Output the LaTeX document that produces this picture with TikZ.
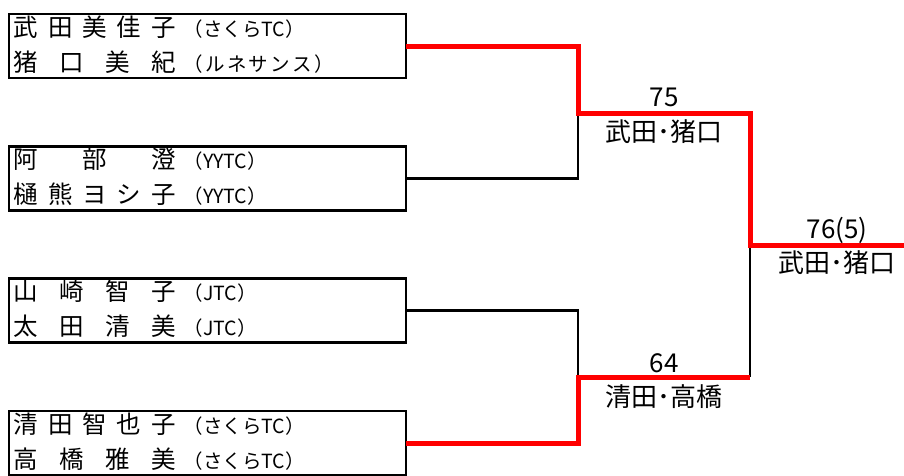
\documentclass[tikz,border=0pt]{standalone}
\usepackage{fontspec}
\newfontfamily\jp{Noto Sans CJK JP}
\usetikzlibrary{calc}
\newcommand\spread[1]{\makebox[162pt][s]{#1}}
\tikzset{
  entry/.style={draw=black, line width=2.6pt, minimum width=397pt, minimum height=64pt, inner sep=0pt, outer sep=0pt},
  nm/.style={anchor=base west, inner sep=0pt, font=\jp\fontsize{24.5}{24.5}\selectfont},
  tm/.style={anchor=base west, inner sep=0pt, font=\jp\fontsize{19.5}{19.5}\selectfont},
  score/.style={anchor=base, inner sep=0pt, font=\jp\fontsize{26}{26}\selectfont},
  lose/.style={draw=black, line width=2.6pt},
  win/.style={draw=red, line width=5pt},
}
\begin{document}
\begin{tikzpicture}[x=1pt,y=-1pt]
\useasboundingbox (0,0) rectangle (904,475);
\fill[white] (0,0) rectangle (904,475);
% boxes
\node[entry] (b1) at (207.5,46) {};
\node[entry] (b2) at (207.5,178.5) {};
\node[entry] (b3) at (207.5,310.5) {};
\node[entry] (b4) at (207.5,443) {};
% names
\node[nm] (n1a) at ($(b1.center)+(-194,-10)$) {\spread{武\hfill 田\hfill 美\hfill 佳\hfill 子}};
\node[nm] (n1b) at ($(b1.center)+(-194,25)$) {\spread{猪\hfill 口\hfill 美\hfill 紀}};
\node[tm] (t1a) at ($(b1.center)+(-24,-10)$) {（さくらTC）};
\node[tm] (t1b) at ($(b1.center)+(-24,25)$) {\makebox[150pt][s]{（\hfill ル\hfill ネ\hfill サ\hfill ン\hfill ス\hfill ）}};
\node[nm] (n2a) at ($(b2.center)+(-194,-10)$) {\spread{阿\hfill 部\hfill 澄}};
\node[nm] (n2b) at ($(b2.center)+(-194,25)$) {\spread{樋\hfill 熊\hfill ヨ\hfill シ\hfill 子}};
\node[tm] (t2a) at ($(b2.center)+(-24,-10)$) {（YYTC）};
\node[tm] (t2b) at ($(b2.center)+(-24,25)$) {（YYTC）};
\node[nm] (n3a) at ($(b3.center)+(-194,-10)$) {\spread{山\hfill 崎\hfill 智\hfill 子}};
\node[nm] (n3b) at ($(b3.center)+(-194,25)$) {\spread{太\hfill 田\hfill 清\hfill 美}};
\node[tm] (t3a) at ($(b3.center)+(-24,-10)$) {（JTC）};
\node[tm] (t3b) at ($(b3.center)+(-24,25)$) {（JTC）};
\node[nm] (n4a) at ($(b4.center)+(-194,-10)$) {\spread{清\hfill 田\hfill 智\hfill 也\hfill 子}};
\node[nm] (n4b) at ($(b4.center)+(-194,25)$) {\spread{高\hfill 橋\hfill 雅\hfill 美}};
\node[tm] (t4a) at ($(b4.center)+(-24,-10)$) {（さくらTC）};
\node[tm] (t4b) at ($(b4.center)+(-24,25)$) {（さくらTC）};
% junctions
\coordinate (m1) at (578,113);
\coordinate (m1r) at (750,113);
\coordinate (m2) at (578,377);
\coordinate (m2r) at (750,377);
\coordinate (f) at (750,245);
\coordinate (fin) at (906,245);
% losers
\draw[lose] (b2.east) -| (m1);
\draw[lose] (b3.east) -| (m2);
\draw[lose] (f) -- (m2r);
% winners
\draw[win] (b1.east) -| (m1) -- (m1r) -- (f) -- (fin);
\draw[win] (b4.east) -| (m2) -- (m2r);
% scores
\node[score] (s1) at (664,106) {75};
\node[score] (w1) at (664,141) {武田･猪口};
\node[score] (s2) at (664,372) {64};
\node[score] (w2) at (664,406) {清田･高橋};
\node[score] (s3) at (837,238) {76(5)};
\node[score] (w3) at (837,272) {武田･猪口};
\end{tikzpicture}
\end{document}
